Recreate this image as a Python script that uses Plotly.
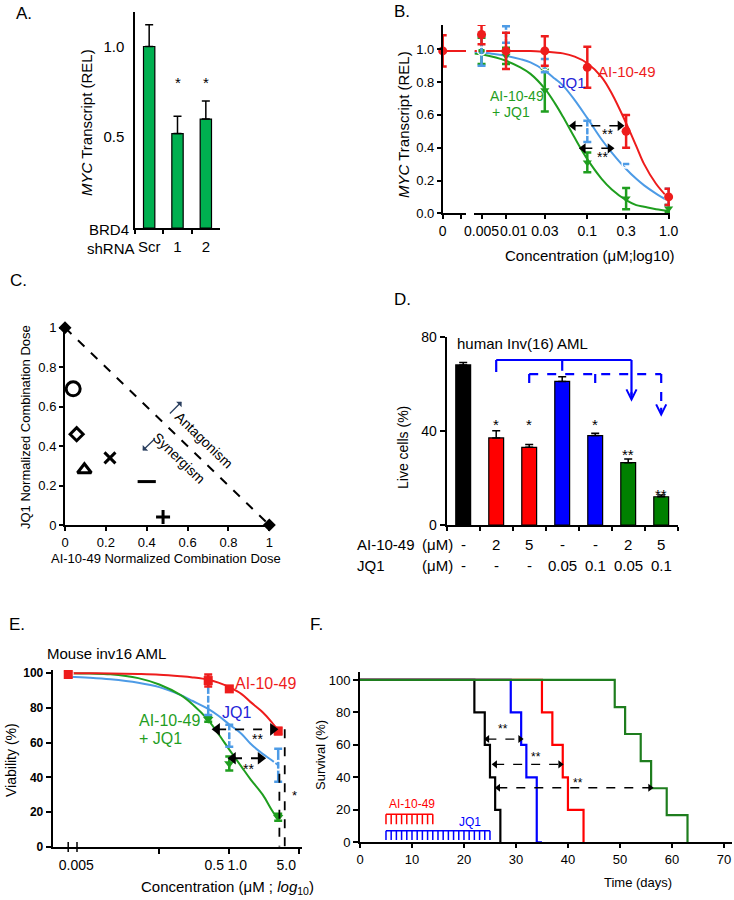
import plotly.graph_objects as go

W, H = 734, 900
FONT = "Liberation Sans, Arial, sans-serif"


def dx(a, b):
    return [a / W, b / W]


def dy(top, bottom):
    return [1 - bottom / H, 1 - top / H]


def PX(x):
    return x / W


def PY(y):
    return 1 - y / H


NB = "\u00a0"

# ---------------- data ----------------
# A: BRD4 knockdown
a_cats = ["Scr", "1", "2"]
a_vals = [1.0, 0.52, 0.60]
a_err = [0.12, 0.095, 0.10]
a_sig = ["", "*", "*"]
a_sig_y = [0, 0.80, 0.80]

# B: MYC transcript dose response
b_conc = [0.005, 0.01, 0.03, 0.1, 0.3, 1.0]
b_tick_vals = [0.005, 0.03, 0.1, 0.3, 1.0]
b_tick_labels = ["0.005", "0.03", "0.1", "0.3", "1.0"]
b_ai_zero, b_ai_zero_err = 0.99, 0.095
b_ai = [1.09, 0.99, 0.99, 0.89, 0.50, 0.10]
b_ai_err = [0.06, 0.11, 0.09, 0.125, 0.10, 0.05]
b_jq1 = [0.99, 1.09, 0.90, 0.50, 0.30, 0.10]
b_jq1_err = [0.09, 0.05, 0.04, 0.065, 0.0, 0.05]
b_combo = [0.99, 0.96, 0.75, 0.31, 0.09, 0.03]
b_combo_err = [0.08, 0.05, 0.13, 0.06, 0.065, 0.02]
b_fit_x = [0.0041, 0.005, 0.0075, 0.01, 0.015, 0.02, 0.03, 0.04, 0.05, 0.07,
           0.1, 0.15, 0.2, 0.3, 0.4, 0.5, 0.7, 1.0]
b_fit_ai = [0.99, 0.99, 0.99, 0.99, 0.99, 0.99, 0.985, 0.98, 0.975, 0.955,
            0.915, 0.83, 0.73, 0.55, 0.41, 0.30, 0.18, 0.09]
b_fit_jq1 = [0.985, 0.98, 0.97, 0.96, 0.94, 0.92, 0.87, 0.82, 0.78, 0.69,
             0.58, 0.45, 0.37, 0.27, 0.21, 0.17, 0.12, 0.075]
b_fit_combo = [0.975, 0.97, 0.95, 0.93, 0.89, 0.85, 0.76, 0.67, 0.59, 0.46,
               0.33, 0.21, 0.145, 0.08, 0.05, 0.04, 0.025, 0.015]

# C: isobologram
c_x = [0.04, 0.057, 0.095, 0.22, 0.40, 0.48]
c_y = [0.69, 0.46, 0.28, 0.34, 0.22, 0.04]
c_symbols = ["circle-open", "diamond-open", "triangle-up-open", "x-thin-open",
             "line-ew-open", "cross-thin-open"]
c_sizes = [14, 10, 12, 11, 13, 10]
c_ends_x = [0, 1]
c_ends_y = [1, 0]

# D: human Inv(16) AML
d_groups = ["Vehicle", "AI 2", "AI 5", "JQ1 0.05", "JQ1 0.1", "Combo 2+0.05", "Combo 5+0.1"]
d_vals = [68, 37, 33, 61, 38, 26.5, 12]
d_err = [1, 3, 1.2, 2, 1, 1.5, 0.7]
d_colors = ["#000000", "#ff0000", "#ff0000", "#0000ff", "#0000ff", "#008000", "#008000"]
d_ai = ["-", "2", "5", "-", "-", "2", "5"]
d_jq1 = ["-", "-", "-", "0.05", "0.1", "0.05", "0.1"]
d_sig = ["", "*", "*", "", "*", "**", "**"]
d_sig_y = [0, 42.5, 42.5, 0, 42.5, 30, 12.8]

# E: mouse inv16 AML viability
e_conc = [0.005, 0.5, 1.0, 5.0]
e_conc_labels = ["0.005", "0.5" + NB, "1.0", "5.0"]
e_ai = [99.3, 95.8, 91, 66.7]
e_ai_err = [1.5, 3.5, 1.5, 1.8]
e_jq1 = [100, 85, 64, 47]
e_jq1_err = [1, 9, 6.3, 9.5]
e_combo = [100, 73.5, 48, 17]
e_combo_err = [1, 1.5, 4, 2]
e_fit_x = [0.005, 0.01, 0.02, 0.05, 0.1, 0.2, 0.3, 0.5, 0.7, 1.0, 1.5, 2.0, 3.0, 4.0, 5.0]
e_fit_ai = [100, 100, 99.9, 99.6, 99.2, 98.3, 97.6, 96.3, 94.6, 92, 88, 83.5, 77.5, 72, 67]
e_fit_jq1 = [98, 97.4, 96.5, 94.5, 92, 87.5, 84, 79.5, 75.5, 70.5, 65, 59.5, 53.5, 50, 47]
e_fit_combo = [100, 99.8, 99.4, 97.2, 93.5, 87.5, 82, 73, 65, 56, 46, 39, 30, 21.5, 15.5]

# F: survival
f_veh_t = [0, 22, 24, 25, 26, 27]
f_veh_s = [100, 80, 60, 40, 20, 0]
f_jq1_t = [0, 29, 31, 32, 34, 35]
f_jq1_s = [100, 80, 60, 40, 0, 0]
f_ai_t = [0, 35, 37, 39, 40, 43]
f_ai_s = [100, 80, 60, 40, 20, 0]
f_combo_t = [0, 49, 51, 54, 56, 59, 63]
f_combo_s = [100, 83.3, 66.7, 50, 33.3, 16.7, 0]
f_ai_days = [5, 6, 7, 8, 9, 10, 11, 12, 13, 14]
f_jq1_days = [5, 6, 7, 8, 9, 10, 11, 12, 13, 14, 15, 16, 17, 18, 19, 20, 21, 22, 23, 24, 25]

RED = "#ee1c1c"
LBLUE = "#4d9be6"
GREEN = "#1f9e1f"

fig = go.Figure()
ann = []
shapes = []


def text(t, x, y, size=14, color="black", xanchor="center", angle=0):
    ann.append(dict(text=t, x=PX(x), y=PY(y), xref="paper", yref="paper", showarrow=False,
                    xanchor=xanchor, yanchor="middle", textangle=angle,
                    font=dict(size=size, color=color, family=FONT)))


# ---------------- A ----------------
fig.add_trace(go.Bar(x=a_cats, y=a_vals, xaxis="x", yaxis="y", width=0.4,
                     marker=dict(color="#00b050", line=dict(color="black", width=1.2)),
                     error_y=dict(type="data", array=a_err, arrayminus=[0] * 3, symmetric=False,
                                  color="black", thickness=1.5, width=4)))
for i, s in enumerate(a_sig):
    if s:
        ann.append(dict(text=s, x=i, y=a_sig_y[i], xref="x", yref="y", showarrow=False,
                        font=dict(size=15, family=FONT)))
text("A.", 14, 14, 17, xanchor="left")
text("<i>MYC</i> Transcript (REL)", 86, 123, 15, angle=-90)
text("BRD4", 131, 230, 15, xanchor="right")
text("shRNA", 137, 249, 15, xanchor="right")

# ---------------- B ----------------
fig.add_trace(go.Scatter(x=[0, 1], y=[b_ai_zero, b_ai_zero], xaxis="x2", yaxis="y2", mode="lines",
                         line=dict(color=RED, width=2), cliponaxis=False))
fig.add_trace(go.Scatter(x=[0], y=[b_ai_zero], xaxis="x2", yaxis="y2", mode="markers", cliponaxis=False,
                         marker=dict(color=RED, size=9),
                         error_y=dict(type="data", array=[b_ai_zero_err], color=RED, thickness=2.5, width=4)))
for fy, col in [(b_fit_combo, GREEN), (b_fit_jq1, LBLUE), (b_fit_ai, RED)]:
    fig.add_trace(go.Scatter(x=b_fit_x, y=fy, xaxis="x3", yaxis="y2", mode="lines",
                             line=dict(color=col, width=2, shape="spline")))
fig.add_trace(go.Scatter(x=b_conc, y=b_combo, xaxis="x3", yaxis="y2", mode="markers", cliponaxis=False,
                         marker=dict(color=GREEN, size=8, symbol="triangle-down"),
                         error_y=dict(type="data", array=b_combo_err, color=GREEN, thickness=2.5, width=4)))
fig.add_trace(go.Scatter(x=b_conc, y=b_jq1, xaxis="x3", yaxis="y2", mode="markers", cliponaxis=False,
                         marker=dict(color="white", size=8, symbol="circle-open", line=dict(color=LBLUE, width=1.5)),
                         error_y=dict(type="data", array=b_jq1_err, color=LBLUE, thickness=2.5, width=4)))
fig.add_trace(go.Scatter(x=b_conc, y=b_ai, xaxis="x3", yaxis="y2", mode="markers", cliponaxis=False,
                         marker=dict(color=RED, size=9),
                         error_y=dict(type="data", array=b_ai_err, color=RED, thickness=2.5, width=4)))
for xs, yv in [([0.0673, 0.252], 0.534), ([0.0893, 0.19], 0.396)]:
    fig.add_trace(go.Scatter(x=xs, y=[yv, yv], xaxis="x3", yaxis="y2", mode="lines+markers",
                             line=dict(color="black", width=1.5, dash="dash"),
                             marker=dict(symbol=["triangle-left", "triangle-right"], size=9, color="black")))
text("B.", 392, 12, 17, xanchor="left")
text("<i>MYC</i> Transcript (REL)", 403, 124, 15, angle=-90)
text("0.01", 513, 231, 14)
text("Concentration (μM;log10)", 590, 255, 15)
text("AI-10-49", 627, 71, 15, RED)
text("JQ1", 572, 82, 15, "#2424d8")
text("AI-10-49", 488, 96, 14, GREEN, xanchor="left")
text("+ JQ1", 490, 112, 14, GREEN, xanchor="left")
text("**", 607, 134, 14)
text("**", 602, 157, 14)

# ---------------- C ----------------
fig.add_trace(go.Scatter(x=c_ends_x, y=c_ends_y, xaxis="x4", yaxis="y3", mode="lines+markers", cliponaxis=False,
                         line=dict(color="black", width=2, dash="dash"),
                         marker=dict(symbol="diamond", size=10, color="black")))
fig.add_trace(go.Scatter(x=c_x, y=c_y, xaxis="x4", yaxis="y3", mode="markers", cliponaxis=False,
                         marker=dict(symbol=c_symbols, size=c_sizes, color="#000000", opacity=1,
                                     line=dict(color="#000000", width=3))))
text("C.", 8, 281, 17, xanchor="left")
text("JQ1 Normalized Combination Dose", 25, 427, 13, angle=-90)
text("AI-10-49 Normalized Combination Dose", 166, 558, 13)
text("Antagonism", 204, 440, 14, angle=44)
text("Synergism", 179, 458, 14, angle=44)
ann.append(dict(x=0.571, y=0.625, ax=0.506, ay=0.558, xref="x4", yref="y3", axref="x4", ayref="y3",
                showarrow=True, arrowhead=1, arrowsize=1, arrowwidth=1.3, text=""))
ann.append(dict(x=0.380, y=0.377, ax=0.445, ay=0.442, xref="x4", yref="y3", axref="x4", ayref="y3",
                showarrow=True, arrowhead=1, arrowsize=1, arrowwidth=1.3, text=""))

# ---------------- D ----------------
fig.add_trace(go.Bar(x=d_groups, y=d_vals, xaxis="x5", yaxis="y4", width=0.45,
                     marker=dict(color=d_colors, line=dict(color="black", width=1.2)),
                     error_y=dict(type="data", array=d_err, arrayminus=[0] * 7, symmetric=False,
                                  color="black", thickness=1.5, width=4)))
for i, s in enumerate(d_sig):
    if s:
        ann.append(dict(text=s, x=i, y=d_sig_y[i], xref="x5", yref="y4", showarrow=False,
                        font=dict(size=15, family=FONT)))
BL = "#0000ff"
for (x0, y0, x1, y1) in [(1, 70.1, 5.1, 70.1), (1, 70.1, 1, 65), (3, 70.1, 3, 65.5), (5.1, 70.1, 5.1, 55)]:
    shapes.append(dict(type="line", xref="x5", yref="y4", x0=x0, y0=y0, x1=x1, y1=y1,
                       line=dict(color=BL, width=2.2)))
for (x0, y0, x1, y1) in [(2, 64.1, 6, 64.1), (2, 64.1, 2, 59), (4, 64.1, 4, 59), (6, 64.1, 6, 49)]:
    shapes.append(dict(type="line", xref="x5", yref="y4", x0=x0, y0=y0, x1=x1, y1=y1,
                       line=dict(color=BL, width=2.2, dash="dash")))
for (xa, ytip, ytail) in [(5.1, 52.4, 57), (6, 46, 50.5)]:
    ann.append(dict(x=xa, y=ytip, ax=xa, ay=ytail, xref="x5", yref="y4", axref="x5", ayref="y4",
                    showarrow=True, arrowhead=5, arrowsize=0.9, arrowwidth=2.2, arrowcolor=BL, text=""))
text("D.", 392, 300, 17, xanchor="left")
text("human Inv(16) AML", 455, 343, 15, xanchor="left")
text("Live cells (%)", 403, 447, 14, angle=-90)
text("AI-10-49", 355, 544, 15, xanchor="left")
text("(μM)", 437, 544, 15)
text("JQ1", 355, 565, 15, xanchor="left")
text("(μM)", 437, 565, 15)
for i in range(len(d_groups)):
    ann.append(dict(text=d_ai[i], x=i, y=PY(544), xref="x5", yref="paper", showarrow=False,
                    font=dict(size=15, family=FONT)))
    ann.append(dict(text=d_jq1[i], x=i, y=PY(565), xref="x5", yref="paper", showarrow=False,
                    font=dict(size=15, family=FONT)))

# ---------------- E ----------------
for fy, col in [(e_fit_jq1, LBLUE), (e_fit_combo, GREEN), (e_fit_ai, RED)]:
    fig.add_trace(go.Scatter(x=e_fit_x, y=fy, xaxis="x6", yaxis="y5", mode="lines",
                             line=dict(color=col, width=2, shape="spline")))
fig.add_trace(go.Scatter(x=e_conc, y=e_combo, xaxis="x6", yaxis="y5", mode="markers", cliponaxis=False,
                         marker=dict(color=GREEN, size=9, symbol="triangle-down"),
                         error_y=dict(type="data", array=e_combo_err, color=GREEN, thickness=2.5, width=4)))
fig.add_trace(go.Scatter(x=e_conc, y=e_jq1, xaxis="x6", yaxis="y5", mode="markers", cliponaxis=False,
                         marker=dict(color="white", size=9, symbol="circle-open", line=dict(color=LBLUE, width=2)),
                         error_y=dict(type="data", array=e_jq1_err, color=LBLUE, thickness=2.5, width=4)))
fig.add_trace(go.Scatter(x=e_conc, y=e_ai, xaxis="x6", yaxis="y5", mode="markers", cliponaxis=False,
                         marker=dict(color=RED, size=9, symbol="square"),
                         error_y=dict(type="data", array=e_ai_err, color=RED, thickness=2.5, width=4)))
for xs, yv in [([0.67, 4.2], 67.7), ([1.13, 2.8], 51)]:
    fig.add_trace(go.Scatter(x=xs, y=[yv, yv], xaxis="x6", yaxis="y5", mode="lines+markers",
                             line=dict(color="black", width=1.8, dash="dash"),
                             marker=dict(symbol=["triangle-left", "triangle-right"], size=11, color="black")))
for xv, ytop in [(5.2, 42), (6.2, 67.7)]:
    fig.add_trace(go.Scatter(x=[xv, xv], y=[ytop, 0], xaxis="x6", yaxis="y5", mode="lines", cliponaxis=False,
                             line=dict(color="black", width=1.8, dash="dash")))
for bx in [68.2, 77]:
    shapes.append(dict(type="line", xref="paper", yref="paper", x0=PX(bx), x1=PX(bx), y0=PY(842), y1=PY(852),
                       line=dict(color="black", width=1.5)))
text("E.", 7, 624, 17, xanchor="left")
text("Mouse inv16 AML", 45, 653, 15, xanchor="left")
text("Viability (%)", 11, 760, 14, angle=-90)
text("Concentration (μM ; <i>log</i><sub>10</sub>)", 227, 887, 15)
text("AI-10-49", 233, 683, 16, RED, xanchor="left")
text("JQ1", 220, 712, 16, "#2424d8", xanchor="left")
text("AI-10-49", 137, 720, 16, GREEN, xanchor="left")
text("+ JQ1", 137, 738, 16, GREEN, xanchor="left")
text("**", 257, 739, 14)
text("**", 248, 769, 14)
text("*", 294, 795, 13)

# ---------------- F ----------------
for t, s, col in [(f_veh_t, f_veh_s, "black"), (f_jq1_t, f_jq1_s, "#0000ff"),
                  (f_ai_t, f_ai_s, "#ff0000"), (f_combo_t, f_combo_s, "#1e7d1e")]:
    fig.add_trace(go.Scatter(x=t, y=s, xaxis="x7", yaxis="y6", mode="lines", cliponaxis=False,
                             line=dict(color=col, width=2.2, shape="hv")))


def comb(days, ytop, ybot, col):
    xs, ys = [days[0], days[-1], None], [ytop, ytop, None]
    for d in days:
        xs += [d, d, None]
        ys += [ytop, ybot, None]
    fig.add_trace(go.Scatter(x=xs, y=ys, xaxis="x7", yaxis="y6", mode="lines",
                             line=dict(color=col, width=1.5)))


comb(f_ai_days, 17.3, 11.1, "#ff0000")
comb(f_jq1_days, 7.1, 1.4, "#0000ff")
for xs, yv in [([24.5, 30.8], 63.6), ([26, 38.5], 48), ([26.6, 55.8], 33.6)]:
    fig.add_trace(go.Scatter(x=xs, y=[yv, yv], xaxis="x7", yaxis="y6", mode="lines+markers",
                             line=dict(color="black", width=1.3, dash="dash"),
                             marker=dict(symbol=["triangle-left", "triangle-right"], size=7, color="black")))
text("F.", 308, 624, 17, xanchor="left")
text("Survival (%)", 320, 755, 13, angle=-90)
text("Time (days)", 638, 882, 13)
text("AI-10-49", 387, 804, 12, "#ff0000", xanchor="left")
text("JQ1", 470, 822, 12, "#0000ff")
text("**", 503, 729, 12)
text("**", 536, 757, 12)
text("**", 578, 783, 12)


# ---------------- axes ----------------
def ax(**kw):
    base = dict(showgrid=False, zeroline=False, showline=True, linecolor="black", linewidth=1.5,
                ticks="outside", tickcolor="black", ticklen=4, tickwidth=1.5, automargin=False,
                tickangle=0, tickfont=dict(size=14, family=FONT, color="black"), fixedrange=True)
    base.update(kw)
    return base


MINOR = dict(ticks="outside", ticklen=4, tickcolor="black", tickwidth=1.5)

fig.update_layout(
    width=W, height=H, margin=dict(l=0, r=0, t=0, b=0, pad=0), showlegend=False,
    paper_bgcolor="white", plot_bgcolor="white", font=dict(family=FONT, color="black"),
    xaxis=ax(domain=dx(135, 220), anchor="y", type="category", categoryorder="array", categoryarray=a_cats,
             range=[-0.5, 2.5], tickson="boundaries", tickfont=dict(size=15, family=FONT), ticklabelstandoff=4),
    yaxis=ax(domain=dy(12, 228), anchor="x", range=[0, 1.19], tickvals=[0.5, 1.0], ticktext=["0.5", "1.0"],
             ticks="", tickfont=dict(size=15, family=FONT), ticklabelstandoff=6),
    xaxis2=ax(domain=dx(442.7, 466), anchor="y2", range=[0, 1], tickvals=[0], ticktext=["0"],
              tickfont=dict(size=14, family=FONT), minor=dict(tickvals=[0.8], **MINOR)),
    xaxis3=ax(domain=dx(474.3, 670), anchor="y2", type="log", range=[-2.39, 0.017], tickvals=b_tick_vals,
              ticktext=b_tick_labels, tickfont=dict(size=14, family=FONT), minor=dict(tickvals=[0.01], **MINOR)),
    yaxis2=ax(domain=dy(25, 213.3), anchor="x2", range=[0, 1.148], tickvals=[0, 0.2, 0.4, 0.6, 0.8, 1.0],
              ticktext=["0.0", "0.2", "0.4", "0.6", "0.8", "1.0"], tickfont=dict(size=13, family=FONT)),
    xaxis4=ax(domain=dx(65, 269.3), anchor="y3", range=[0, 1], tickvals=[0, 0.2, 0.4, 0.6, 0.8, 1],
              ticktext=["0", "0.2", "0.4", "0.6", "0.8", "1"], linewidth=2, tickfont=dict(size=13, family=FONT)),
    yaxis3=ax(domain=dy(327.7, 525), anchor="x4", range=[0, 1], tickvals=[0, 0.2, 0.4, 0.6, 0.8, 1],
              ticktext=["0", "0.2", "0.4", "0.6", "0.8", "1"], linewidth=2, tickfont=dict(size=13, family=FONT)),
    xaxis5=ax(domain=dx(446.7, 677.7), anchor="y4", type="category", categoryorder="array",
              categoryarray=d_groups, range=[-0.5, 6.5], tickson="boundaries", showticklabels=False, linewidth=2),
    yaxis4=ax(domain=dy(336.7, 525), anchor="x5", range=[0, 80], tickvals=[0, 40, 80], linewidth=2,
              ticklen=5, tickfont=dict(size=14, family=FONT)),
    xaxis6=ax(domain=dx(52.7, 302), anchor="y5", type="log", range=[-2.523, 1.039],
              tickvals=e_conc, ticktext=e_conc_labels, ticks="", ticklabelshift=8,
              ticklabelstandoff=4, linewidth=2, tickfont=dict(size=14, family=FONT),
              minor=dict(tickvals=[0.1, 1, 10], ticks="outside", ticklen=5, tickcolor="black", tickwidth=1.5)),
    yaxis5=ax(domain=dy(669.8, 846.7), anchor="x6", range=[0, 102], tickvals=[0, 20, 40, 60, 80, 100],
              linewidth=2, ticklen=5, tickfont=dict(size=12, family=FONT, weight="bold")),
    xaxis7=ax(domain=dx(360, 731.7), anchor="y6", range=[0, 71.5], tickvals=[0, 10, 20, 30, 40, 50, 60, 70],
              linewidth=2, tickfont=dict(size=13, family=FONT)),
    yaxis6=ax(domain=dy(671.5, 842.3), anchor="x7", range=[0, 105.2], tickvals=[0, 20, 40, 60, 80, 100],
              linewidth=2, ticklen=5, tickfont=dict(size=13, family=FONT)),
    annotations=ann,
    shapes=shapes,
)

fig.write_html("out.html", config={"displayModeBar": False},
               post_script="document.body.style.margin='0';document.body.style.padding='0';")
